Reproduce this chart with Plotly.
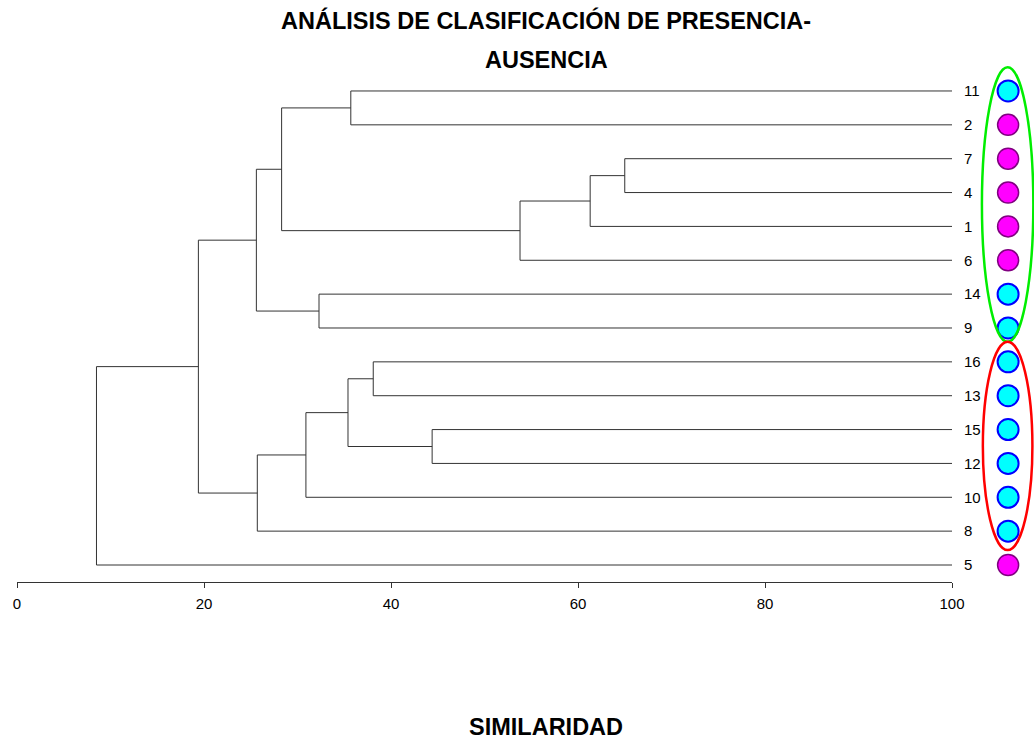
import plotly.graph_objects as go

# ---------------- data ----------------
leaf_labels = ['11', '2', '7', '4', '1', '6', '14', '9', '16', '13', '15', '12', '10', '8', '5']  # top -> bottom
leaf_groups = ['C', 'M', 'M', 'M', 'M', 'M', 'C', 'C', 'C', 'C', 'C', 'C', 'C', 'C', 'M']
# merges c0..c13 (in order)
merge_a = ['11', '7', 'c1', 'c2', 'c0', '14', 'c4', '16', '15', 'c7', 'c9', 'c10', 'c6', 'c12']
merge_b = ['2', '4', '1', '6', 'c3', '9', 'c5', '13', '12', 'c8', '10', '8', 'c11', '5']
merge_sim = [35.7, 65.0, 61.3, 53.8, 28.3, 32.3, 25.6, 38.1, 44.4, 35.4, 30.9, 25.7, 19.4, 8.5]
x_ticks = [0, 20, 40, 60, 80, 100]
cluster_green = ['11', '2', '7', '4', '1', '6', '14', '9']
cluster_red = ['16', '13', '15', '12', '10', '8']

# ---------------- layout constants ----------------
W, H = 1034, 740
ML, MR, MT, MB = 17, 0, 60, 158
PLOT_W = W - ML - MR
D = 935.0 / PLOT_W                 # domain end of the similarity axis
X3_MAX = 100.0 + (1 - D) * 100.0 / D
Y_MIN, Y_MAX = -0.502, 14.915
MARKER_COL = 106.0
LINE_COL = '#333333'
FONT = 'Liberation Sans, Arial, sans-serif'

n = len(leaf_labels)
pos = {lab: (100.0, float(n - 1 - i)) for i, lab in enumerate(leaf_labels)}

xs, ys = [], []
for k, (a, b, s) in enumerate(zip(merge_a, merge_b, merge_sim)):
    xa, ya = pos[a]
    xb, yb = pos[b]
    xs += [xa, s, s, xb, None]
    ys += [ya, ya, yb, yb, None]
    pos['c%d' % k] = (s, (ya + yb) / 2.0)

fig = go.Figure()
fig.add_trace(go.Scatter(x=xs, y=ys, mode='lines', xaxis='x', yaxis='y',
                         line=dict(color=LINE_COL, width=1), hoverinfo='skip'))

leaf_y = [pos[l][1] for l in leaf_labels]
fill = {'C': '#00FFFF', 'M': '#FF00FF'}
edge = {'C': '#0000FF', 'M': '#800080'}
ew = {'C': 2, 'M': 1.5}
fig.add_trace(go.Scatter(
    x=[MARKER_COL] * n, y=leaf_y, mode='markers', cliponaxis=False,
    xaxis='x3', yaxis='y',
    marker=dict(size=21, color=[fill[g] for g in leaf_groups],
                line=dict(color=[edge[g] for g in leaf_groups],
                          width=[ew[g] for g in leaf_groups])),
    hoverinfo='skip'))


def px_(v):
    return v * D / 100.0


def py(v):
    return (v - Y_MIN) / (Y_MAX - Y_MIN)


def ellipse(members, pad_lo, pad_hi, x0, x1, color):
    yv = [pos[m][1] for m in members]
    return dict(type='circle', xref='paper', yref='paper',
                x0=px_(x0), x1=px_(x1),
                y0=py(min(yv) - pad_lo), y1=py(max(yv) + pad_hi),
                line=dict(color=color, width=2.5), layer='above')


fig.update_layout(shapes=[
    ellipse(cluster_green, 0.41, 0.70, 103.2, 108.7, '#00EE00'),
    ellipse(cluster_red, 0.56, 0.59, 103.3, 108.6, '#FF0000'),
])

fig.update_layout(
    width=W, height=H,
    margin=dict(l=ML, r=MR, t=MT, b=MB, pad=0, autoexpand=False),
    paper_bgcolor='white', plot_bgcolor='white',
    showlegend=False,
    font=dict(family=FONT, color='black', size=15),
    xaxis=dict(range=[0, 100], domain=[0, D], showgrid=False, zeroline=False,
               automargin=False,
               showline=True, linecolor=LINE_COL, linewidth=1,
               ticks='outside', ticklen=5, tickcolor=LINE_COL, tickwidth=1,
               tickvals=x_ticks, ticktext=[str(t) for t in x_ticks],
               tickfont=dict(size=15, family=FONT, color='black'),
               ticklabelstandoff=3),
    xaxis2=dict(range=[0, 100], overlaying='x', anchor='y', side='bottom',
                automargin=False,
                showgrid=False, zeroline=False, showline=False,
                ticks='inside', ticklen=4, tickcolor=LINE_COL, tickwidth=1,
                tickvals=x_ticks, showticklabels=False),
    xaxis3=dict(range=[100, X3_MAX], domain=[D, 1], anchor='y', visible=False,
                automargin=False, showgrid=False, zeroline=False),
    yaxis=dict(range=[Y_MIN, Y_MAX], side='right', anchor='x', showgrid=False,
               automargin=False,
               zeroline=False, showline=False, ticks='outside', ticklen=8,
               tickcolor='rgba(0,0,0,0)', tickvals=leaf_y, ticktext=leaf_labels,
               tickfont=dict(size=15, family=FONT, color='black')),
)

plot_h = H - MT - MB


def pyp(pix):
    return (H - MB - pix) / plot_h


tx = (546 - ML) / PLOT_W
TFS = 23.5
fig.add_annotation(text='<b>ANÁLISIS DE CLASIFICACIÓN DE PRESENCIA-</b>',
                   xref='paper', yref='paper', x=tx, y=pyp(20), showarrow=False,
                   xanchor='center', yanchor='middle',
                   font=dict(size=TFS, family=FONT, color='black'))
fig.add_annotation(text='<b>AUSENCIA</b>',
                   xref='paper', yref='paper', x=tx, y=pyp(60), showarrow=False,
                   xanchor='center', yanchor='middle',
                   font=dict(size=TFS, family=FONT, color='black'))
fig.add_annotation(text='<b>SIMILARIDAD</b>',
                   xref='paper', yref='paper', x=tx, y=pyp(727), showarrow=False,
                   xanchor='center', yanchor='middle',
                   font=dict(size=TFS, family=FONT, color='black'))

fig.write_html('out.html')
